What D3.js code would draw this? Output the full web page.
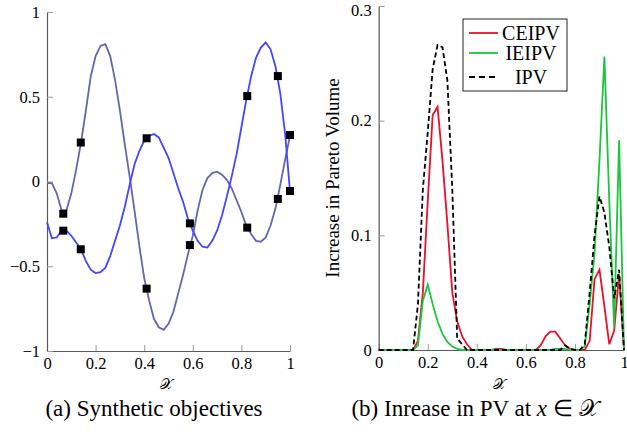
<!DOCTYPE html>
<html>
<head>
<meta charset="utf-8">
<script src="https://cdn.jsdelivr.net/npm/d3@7"></script>
<style>
  body { margin: 0; background: #fff; }
  svg text { font-family: "Liberation Serif", "Times New Roman", serif; fill: #000; }
</style>
</head>
<body>
<div id="chart"></div>
<script>
// (a) synthetic objectives, sampled on x = 0, 0.02, ..., 1
var gridX = d3.range(0, 51).map(function(i) { return i / 50; });
var objective1 = [-0.01, -0.01, -0.07, -0.17, -0.17, -0.07, 0.07, 0.23, 0.42, 0.62,
  0.74, 0.80, 0.81, 0.74, 0.60, 0.42, 0.22, 0.03, -0.17, -0.38,
  -0.57, -0.70, -0.81, -0.86, -0.875, -0.84, -0.77, -0.66, -0.55, -0.43,
  -0.32, -0.17, -0.05, 0.02, 0.05, 0.058, 0.04, 0.01, -0.04, -0.11,
  -0.18, -0.26, -0.31, -0.35, -0.355, -0.33, -0.26, -0.16, -0.02, 0.13, 0.27];
var objective2 = [-0.24, -0.335, -0.33, -0.29, -0.29, -0.32, -0.36, -0.40, -0.47, -0.52,
  -0.54, -0.535, -0.51, -0.44, -0.35, -0.26, -0.15, -0.02, 0.10, 0.18,
  0.24, 0.27, 0.28, 0.26, 0.20, 0.14, 0.05, -0.04, -0.12, -0.22,
  -0.29, -0.35, -0.385, -0.39, -0.35, -0.29, -0.20, -0.09, 0.03, 0.16,
  0.32, 0.48, 0.62, 0.73, 0.79, 0.82, 0.78, 0.68, 0.52, 0.28, -0.06];
var sampleX = [0.067, 0.139, 0.41, 0.588, 0.824, 0.95, 1.0];
var sample1 = [-0.19, 0.23, -0.632, -0.375, -0.272, -0.103, 0.274];
var sample2 = [-0.29, -0.40, 0.255, -0.247, 0.504, 0.622, -0.056];

// (b) increase in Pareto volume, same grid
var ceipv = [0, 0, 0, 0, 0, 0, 0, 0, 0.008, 0.05,
  0.13, 0.205, 0.212, 0.165, 0.11, 0.05, 0.025, 0.012, 0.005, 0,
  0, 0, 0, 0, 0.001, 0.001, 0, 0, 0, 0,
  0, 0, 0, 0.004, 0.012, 0.016, 0.016, 0.01, 0.004, 0.001,
  0, 0, 0, 0.008, 0.062, 0.07, 0.038, 0.005, 0.017, 0.066, 0];
var ieipv = [0, 0, 0, 0, 0, 0, 0, 0, 0.004, 0.043,
  0.057, 0.04, 0.025, 0.014, 0.007, 0.003, 0.001, 0, 0, 0,
  0, 0, 0, 0, 0, 0, 0, 0, 0, 0,
  0, 0, 0, 0, 0, 0, 0.001, 0.001, 0.001, 0,
  0, 0, 0.003, 0.04, 0.085, 0.165, 0.256, 0.13, 0.02, 0.183, 0];
var ipv = [0, 0, 0, 0, 0, 0, 0, 0, 0.04, 0.14,
  0.19, 0.245, 0.266, 0.264, 0.235, 0.14, 0.01, 0.005, 0, 0,
  0, 0, 0, 0, 0, 0, 0, 0, 0, 0,
  0, 0, 0, 0, 0, 0, 0, 0, 0.004, 0.001,
  0, 0, 0.005, 0.05, 0.10, 0.134, 0.12, 0.09, 0.045, 0.07, 0];
var legendNames = ["CEIPV", "IEIPV", "IPV"];
var legendColors = ["#e8102a", "#18c83a", "#000"];

var xTicks = [0, 0.2, 0.4, 0.6, 0.8, 1];
var yTicksA = [-1, -0.5, 0, 0.5, 1];
var yTicksB = [0, 0.1, 0.2, 0.3];

var svg = d3.select("#chart").append("svg")
  .attr("width", 627)
  .attr("height", 436);

function styleAxis(g) {
  g.select(".domain").attr("stroke", "#5a5a5a").attr("stroke-width", 1.2);
  g.selectAll(".tick line").attr("stroke", "#9a9a9a");
  g.selectAll(".tick text")
    .attr("font-family", "Liberation Serif, serif")
    .attr("font-size", 16.5)
    .attr("fill", "#000");
}

function fmt(d) { return d < 0 ? "\u2212" + Math.abs(d) : String(d); }

// ---------- (a) ----------
var xA = d3.scaleLinear().domain([0, 1]).range([47, 290]);
var yA = d3.scaleLinear().domain([-1, 1]).range([351, 12]);

svg.append("g")
  .attr("transform", "translate(0," + yA(-1) + ")")
  .call(d3.axisBottom(xA).tickValues(xTicks).tickFormat(fmt).tickSize(-6).tickSizeOuter(0).tickPadding(6))
  .call(styleAxis);
svg.append("g")
  .attr("transform", "translate(" + xA(0) + ",0)")
  .call(d3.axisLeft(yA).tickValues(yTicksA).tickFormat(fmt).tickSize(-6).tickSizeOuter(0).tickPadding(7))
  .call(styleAxis);

var lineA = function(vals) {
  return d3.line()
    .x(function(d, i) { return xA(gridX[i]); })
    .y(function(d) { return yA(d); })(vals);
};
svg.append("path").attr("d", lineA(objective1))
  .attr("fill", "none").attr("stroke", "#6565b2").attr("stroke-width", 1.8);
svg.append("path").attr("d", lineA(objective2))
  .attr("fill", "none").attr("stroke", "#4545ff").attr("stroke-width", 1.8);

var samples = sampleX.map(function(x, i) { return [x, sample1[i]]; })
  .concat(sampleX.map(function(x, i) { return [x, sample2[i]]; }));
svg.append("g").selectAll("rect")
  .data(samples)
  .enter().append("rect")
    .attr("x", function(d) { return xA(d[0]) - 4; })
    .attr("y", function(d) { return yA(d[1]) - 4; })
    .attr("width", 8)
    .attr("height", 8)
    .attr("fill", "#000");

svg.append("text")
  .attr("x", (xA(0) + xA(1)) / 2 - 2).attr("y", 389)
  .attr("text-anchor", "middle").attr("font-size", 15)
  .text("\ud835\udcb3");

svg.append("text")
  .attr("x", 154).attr("y", 416)
  .attr("text-anchor", "middle").attr("font-size", 23)
  .text("(a) Synthetic objectives");

// ---------- (b) ----------
var xB = d3.scaleLinear().domain([0, 1]).range([378.7, 624]);
var yB = d3.scaleLinear().domain([0, 0.3]).range([350, 6]);

svg.append("g")
  .attr("transform", "translate(0," + yB(0) + ")")
  .call(d3.axisBottom(xB).tickValues(xTicks).tickFormat(fmt).tickSize(-6).tickSizeOuter(0).tickPadding(6))
  .call(styleAxis);
svg.append("g")
  .attr("transform", "translate(" + xB(0) + ",0)")
  .call(d3.axisLeft(yB).tickValues(yTicksB).tickFormat(fmt).tickSize(-6).tickSizeOuter(0).tickPadding(7))
  .call(styleAxis)
  .selectAll(".tick text")
    .attr("dy", function(d) { return d == 0.3 ? "0.55em" : "0.32em"; });

var lineB = function(vals) {
  return d3.line()
    .x(function(d, i) { return xB(gridX[i]); })
    .y(function(d) { return yB(d); })(vals);
};
svg.append("path").attr("d", lineB(ceipv))
  .attr("fill", "none").attr("stroke", legendColors[0]).attr("stroke-width", 1.8);
svg.append("path").attr("d", lineB(ieipv))
  .attr("fill", "none").attr("stroke", legendColors[1]).attr("stroke-width", 1.8);
svg.append("path").attr("d", lineB(ipv))
  .attr("fill", "none").attr("stroke", legendColors[2]).attr("stroke-width", 1.8)
  .attr("stroke-dasharray", "5,3");

svg.append("text")
  .attr("transform", "translate(339,178) rotate(-90)")
  .attr("text-anchor", "middle").attr("font-size", 19)
  .text("Increase in Pareto Volume");

svg.append("text")
  .attr("x", (xB(0) + xB(1)) / 2 - 2).attr("y", 389)
  .attr("text-anchor", "middle").attr("font-size", 15)
  .text("\ud835\udcb3");

var cap = svg.append("text")
  .attr("x", 475).attr("y", 416)
  .attr("text-anchor", "middle").attr("font-size", 23);
cap.append("tspan").text("(b) Inrease in PV at ");
cap.append("tspan").attr("font-style", "italic").text("x");
cap.append("tspan").text(" \u2208 ");
cap.append("tspan").text("\ud835\udcb3");

// legend
var legend = svg.append("g").attr("transform", "translate(463,19)");
legend.append("rect")
  .attr("width", 104).attr("height", 72)
  .attr("fill", "#fff").attr("stroke", "#222").attr("stroke-width", 1);
var item = legend.selectAll("g.item")
  .data(legendNames)
  .enter().append("g")
    .attr("class", "item")
    .attr("transform", function(d, i) { return "translate(0," + [14, 34, 58][i] + ")"; });
item.append("line")
  .attr("x1", 6).attr("x2", 35)
  .attr("stroke", function(d, i) { return legendColors[i]; })
  .attr("stroke-width", 1.8)
  .attr("stroke-dasharray", function(d, i) { return i == 2 ? "6,4" : null; });
item.append("text")
  .attr("x", 68).attr("y", 7)
  .attr("text-anchor", "middle").attr("font-size", 20)
  .text(function(d) { return d; });
</script>
</body>
</html>
